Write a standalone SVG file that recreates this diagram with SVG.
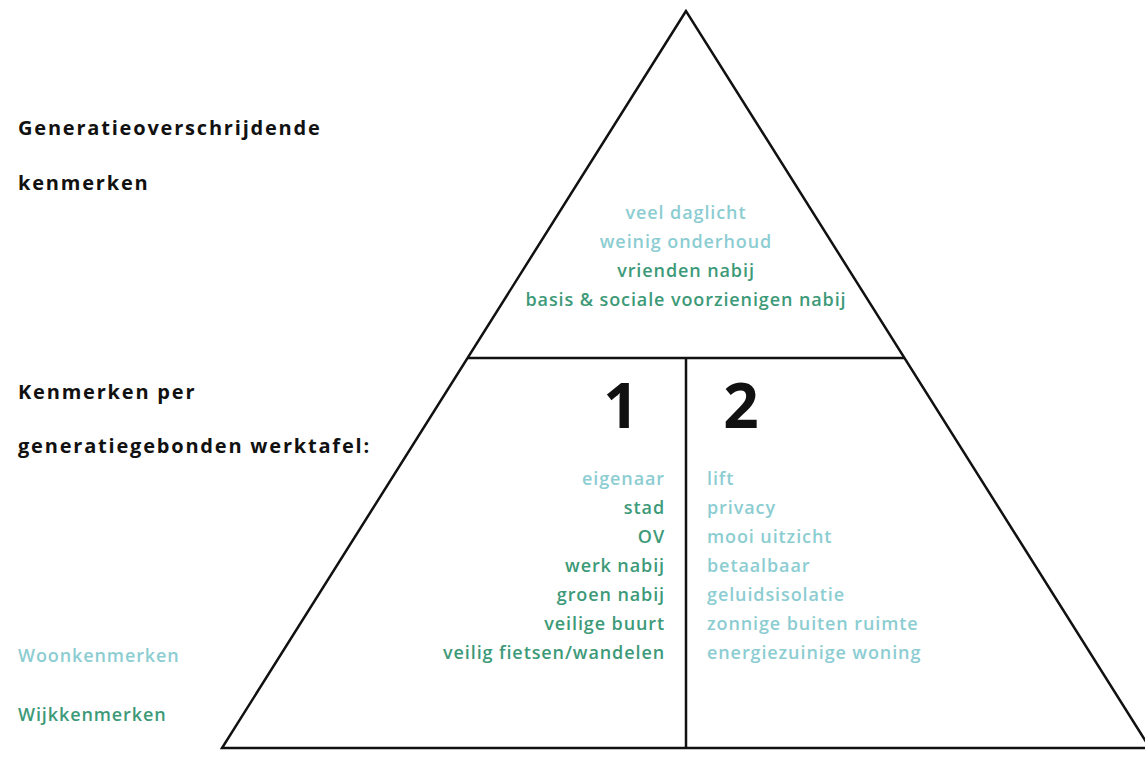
<svg xmlns="http://www.w3.org/2000/svg" width="1145" height="772" viewBox="0 0 1145 772">
<style>
.h{font-family:"Open Sans","Liberation Sans",sans-serif;font-weight:bold;font-size:20px;letter-spacing:1.8px;fill:#111}
.t{font-family:"Open Sans","Liberation Sans",sans-serif;font-weight:600;font-size:18px;letter-spacing:0.9px}
.lb{fill:#8ccdd2}
.gr{fill:#3d9a78}
.n{font-family:"Open Sans","Liberation Sans",sans-serif;font-weight:bold;font-size:62px;fill:#111;text-anchor:middle}
.ln{stroke:#111;stroke-width:2.5;fill:none}
</style>
<rect width="1145" height="772" fill="#fff"/>
<g id="connectors">
<path class="ln" d="M686,11 L222,748 L1150,748 Z"/>
<line class="ln" x1="468" y1="358" x2="905" y2="358"/>
<line class="ln" x1="686" y1="358" x2="686" y2="748"/>
</g>
<g id="labels">
<text class="h" x="18" y="135">Generatieoverschrijdende</text>
<text class="h" x="18" y="190">kenmerken</text>
<text class="h" x="18" y="399">Kenmerken per</text>
<text class="h" x="18" y="453">generatiegebonden werktafel:</text>
<text class="t lb" x="18" y="662">Woonkenmerken</text>
<text class="t gr" x="18" y="721">Wijkkenmerken</text>
</g>
<g id="top" text-anchor="middle">
<text class="t lb" x="686" y="219">veel daglicht</text>
<text class="t lb" x="686" y="248">weinig onderhoud</text>
<text class="t gr" x="686" y="277">vrienden nabij</text>
<text class="t gr" x="686" y="306">basis &amp; sociale voorzienigen nabij</text>
</g>
<g id="col1" text-anchor="end">
<text class="n" x="621" y="428">1</text>
<text class="t lb" x="665" y="485" text-anchor="end">eigenaar</text>
<text class="t gr" x="665" y="514" text-anchor="end">stad</text>
<text class="t gr" x="665" y="543" text-anchor="end">OV</text>
<text class="t gr" x="665" y="572" text-anchor="end">werk nabij</text>
<text class="t gr" x="665" y="601" text-anchor="end">groen nabij</text>
<text class="t gr" x="665" y="630" text-anchor="end">veilige buurt</text>
<text class="t gr" x="665" y="659" text-anchor="end">veilig fietsen/wandelen</text>
</g>
<g id="col2">
<text class="n" x="741" y="428">2</text>
<text class="t lb" x="707" y="485">lift</text>
<text class="t lb" x="707" y="514">privacy</text>
<text class="t lb" x="707" y="543">mooi uitzicht</text>
<text class="t lb" x="707" y="572">betaalbaar</text>
<text class="t lb" x="707" y="601">geluidsisolatie</text>
<text class="t lb" x="707" y="630">zonnige buiten ruimte</text>
<text class="t lb" x="707" y="659">energiezuinige woning</text>
</g>
</svg>
